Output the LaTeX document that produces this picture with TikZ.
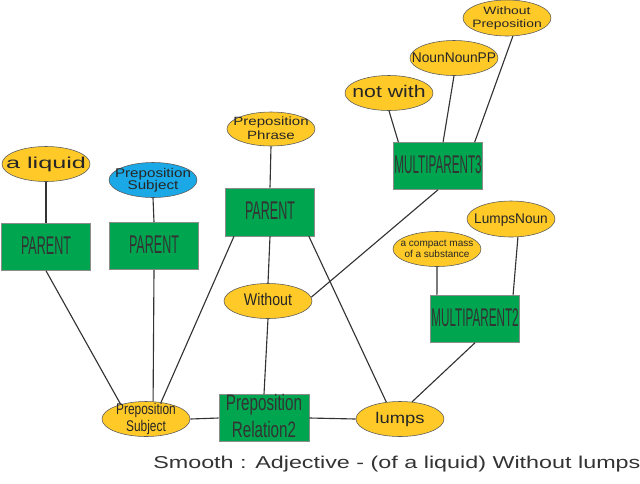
\documentclass[tikz,border=0pt]{standalone}
\usepackage{fontspec}
\setmainfont{Liberation Sans}
\usepackage{graphicx}
\usetikzlibrary{shapes}

\definecolor{wordyellow}{HTML}{FFC928}
\definecolor{parentgreen}{HTML}{00A550}
\definecolor{subjblue}{HTML}{1AA9E6}
\definecolor{linkgray}{HTML}{333333}

% text of fixed look, kept out of the node size
\newcommand{\ntxt}[2]{\makebox[0pt]{\raisebox{-0.3em}[0pt][0pt]{\scalebox{#1}[1]{\begin{tabular}{@{}c@{}}#2\end{tabular}}}}}
\newcommand{\fs}[2]{\fontsize{#1}{#2}\selectfont}

\begin{document}
\begin{tikzpicture}[x=0.025cm,y=-0.025cm,
  word/.style={ellipse,draw=black!65,line width=0.4pt,fill=wordyellow,minimum width=2.2cm,minimum height=0.875cm,inner sep=0pt,text=black!85},
  subj/.style={word,fill=subjblue},
  parent/.style={rectangle,draw=black!45,line width=0.4pt,fill=parentgreen,minimum width=2.225cm,minimum height=1.175cm,inner sep=0pt,text=black!80,font=\fs{18.2pt}{21pt}},
  link/.style={draw=linkgray,line width=0.8pt}]

\useasboundingbox (0,0) rectangle (640,483);

	% left parents
	\node[word,font=\fs{11.2pt}{13pt}] (liquid) at (46,164) {\ntxt{1.6}{a liquid}};
	\node[parent] (par1) at (46,247) {\ntxt{0.49}{PARENT}};
	\node[subj,font=\fs{9pt}{8.2pt}] (subjtop) at (153,180) {\ntxt{1.2}{Preposition\\Subject}};
	\node[parent] (par2) at (154,246) {\ntxt{0.49}{PARENT}};
	\node[word,minimum height=0.85cm,font=\fs{8.5pt}{9.5pt}] (phrase) at (271,129) {\ntxt{1.26}{Preposition\\Phrase}};
	\node[parent,minimum height=1.2cm] (par3) at (270,212) {\ntxt{0.49}{PARENT}};

	% multiparent 3
	\node[word,font=\fs{12pt}{14pt}] (notwith) at (389,93) {\ntxt{1.26}{not with}};
	\node[word,font=\fs{10pt}{12pt}] (nnpp) at (454,58) {\ntxt{0.98}{NounNounPP}};
	\node[word,minimum height=0.9cm,font=\fs{7.6pt}{9.5pt}] (withoutprep) at (507,18) {\ntxt{1.3}{Without\\Preposition}};
	\node[parent] (multi3) at (438,166) {\ntxt{0.457}{MULTIPARENT3}};

	% multiparent 2
	\node[word,font=\fs{7.1pt}{7.6pt}] (mass) at (437,249) {\ntxt{1.0}{a compact mass\\of a substance}};
	\node[word,minimum height=0.9cm,font=\fs{10pt}{12pt}] (lumpsnoun) at (511,219) {\ntxt{0.97}{LumpsNoun}};
	\node[parent] (multi2) at (475,319) {\ntxt{0.457}{MULTIPARENT2}};

	% middle and bottom row
	\node[word,font=\fs{12pt}{14pt}] (without) at (268,301) {\ntxt{0.84}{Without}};
	\node[word,font=\fs{11pt}{11.4pt}] (subjbot) at (146,419) {\ntxt{0.77}{Preposition\\Subject}};
	\node[parent,minimum width=2.25cm,font=\fs{15.9pt}{19.2pt}] (relation) at (264,418) {\ntxt{0.68}{Preposition\\Relation2}};
	\node[word,font=\fs{11pt}{13pt}] (lumps) at (400,419) {\ntxt{1.19}{lumps}};

	\node[anchor=base west,inner sep=0pt,text=black!80,font=\fs{12.2pt}{14pt}] (gloss) at (153,468) {\scalebox{1.36}[1]{Smooth : Adjective - (of a liquid) Without lumps}};

	\draw[link] (liquid.south) -- (par1.north);
	\draw[link] (par1.south) -- (subjbot.150);
	\draw[link] (subjtop.south) -- (par2.north);
	\draw[link] (par2.south) -- (subjbot.68);
	\draw[link] (phrase.south) -- (par3.north);
	\draw[link] (par3.214) -- (subjbot.48);
	\draw[link] (par3.south) -- (without.north);
	\draw[link] (par3.-32) -- (lumps.129);
	\draw[link] (without.5) -- (multi3.south);
	\draw[link] (notwith.south) -- (multi3.149);
	\draw[link] (nnpp.south) -- (multi3.78);
	\draw[link] (withoutprep.-72) -- (multi3.33);
	\draw[link] (without.south) -- (relation.north);
	\draw[link] (subjbot.east) -- (relation.west);
	\draw[link] (relation.east) -- (lumps.west);
	\draw[link] (mass.south) -- (multi2.148);
	\draw[link] (lumpsnoun.-69) -- (multi2.32);
	\draw[link] (multi2.south) -- (lumps.55);
  \end{tikzpicture}
\end{document}
